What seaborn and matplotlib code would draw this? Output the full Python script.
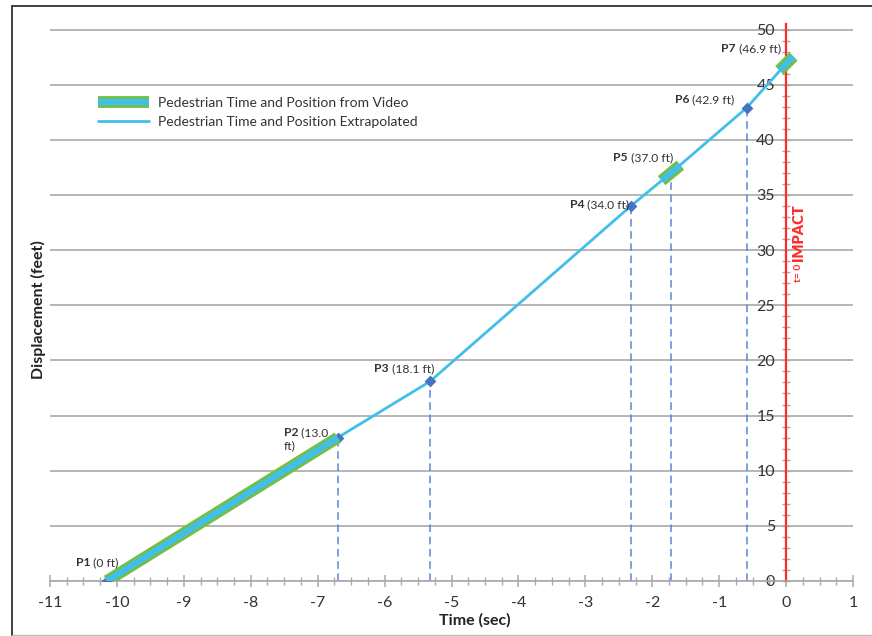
import matplotlib
matplotlib.use("Agg")
import matplotlib.pyplot as plt
import matplotlib.patheffects as pe
from matplotlib.lines import Line2D
from matplotlib.ticker import MultipleLocator
import pandas as pd
import seaborn as sns

# Pedestrian positions (time before impact, displacement)
point_names = ["P1", "P2", "P3", "P4", "P5", "P6", "P7"]
point_times = [-10.15, -6.70, -5.32, -2.32, -1.72, -0.59, 0.0]
point_disp = [0.0, 13.0, 18.1, 34.0, 37.0, 42.9, 46.9]
point_notes = ["(0 ft)", "(13.0\nft)", "(18.1 ft)", "(34.0 ft)",
               "(37.0 ft)", "(42.9 ft)", "(46.9 ft)"]
diamond_names = ["P1", "P2", "P3", "P4", "P6"]
dropline_names = ["P2", "P3", "P4", "P5", "P6"]

# Stretches where the position comes directly from the video
video_seg_times = [[-10.15, -6.70], [-1.86, -1.58], [-0.10, 0.11]]
video_seg_disp = [[0.0, 13.0], [36.3, 37.7], [46.3, 47.55]]

legend_labels = ["Pedestrian Time and Position from Video",
                 "Pedestrian Time and Position Extrapolated"]
x_label = "Time (sec)"
y_label = "Displacement (feet)"
impact_small = "t= 0"
impact_big = "IMPACT"

# label offsets (pixels) from each point to the start of its label
label_offsets = [(-31, 18), (-54, 5), (-56, 13), (-61, 1), (-58, 15), (-72, 8), (-65, 15)]

CYAN = "#41BFE8"
GREEN = "#74BE43"
DIAMOND = "#4673C2"
DROP = "#5A88D6"
RED = "#FF2B2B"
GRID = "#A9A9A9"
TEXT = "#333333"

sns.set_theme(style="white")
plt.rcParams["font.family"] = ["Lato", "DejaVu Sans"]
plt.rcParams["axes.unicode_minus"] = False

df = pd.DataFrame({"name": point_names, "time": point_times, "disp": point_disp})

fig = plt.figure(figsize=(8.72, 6.36), dpi=100)
ax = fig.add_axes([50 / 872, 55 / 636, 803 / 872, 557 / 636])

ax.set_xlim(-11, 1)
ax.set_ylim(0, 50.5)

# horizontal grid
ax.yaxis.set_major_locator(MultipleLocator(5))
ax.yaxis.set_minor_locator(MultipleLocator(1))
ax.xaxis.set_major_locator(MultipleLocator(1))
ax.xaxis.set_minor_locator(MultipleLocator(0.25))
ax.grid(axis="y", which="major", color=GRID, lw=1.2, zorder=0)
ax.grid(axis="x", visible=False)
ax.set_axisbelow(True)

# drop lines to the time axis
drop = df[df["name"].isin(dropline_names)]
ax.vlines(drop["time"], 0, drop["disp"], colors=DROP, linestyles=(0, (5, 3)), lw=1.1, zorder=2)

# extrapolated path
sns.lineplot(data=df, x="time", y="disp", sort=False, color=CYAN, lw=2.0, ax=ax, zorder=3)

# marker diamonds
dia = df[df["name"].isin(diamond_names)]
sns.scatterplot(data=dia, x="time", y="disp", marker="D", s=36, color=DIAMOND,
                edgecolor=DIAMOND, linewidth=0, ax=ax, zorder=4)

# video segments: green outline with cyan core
video_fx = [pe.Stroke(linewidth=8.5, foreground=GREEN), pe.Normal()]
for ts, ds in zip(video_seg_times, video_seg_disp):
    sns.lineplot(x=ts, y=ds, sort=False, color=CYAN, lw=4.6, ax=ax,
                 path_effects=video_fx, solid_capstyle="butt", zorder=5)

# point labels: bold name followed by the displacement
for t, d, name, note, (dx, dy) in zip(point_times, point_disp, point_names,
                                      point_notes, label_offsets):
    first, *rest = note.split("\n")
    head = ax.annotate(name, xy=(t, d), xytext=(dx, dy), textcoords="offset pixels",
                       fontsize=8.7, fontweight="bold", color=TEXT, ha="left",
                       va="center", zorder=6)
    ax.annotate(" " + first, xy=(1, 0), xycoords=head, ha="left", va="bottom",
                fontsize=8.7, color=TEXT, zorder=6)
    for i, line in enumerate(rest):
        ax.annotate(line, xy=(t, d), xytext=(dx, dy - 13 * (i + 1)),
                    textcoords="offset pixels", fontsize=8.7, color=TEXT,
                    ha="left", va="center", zorder=6)

# impact marker
ax.text(0.19, 27.1, impact_small, rotation=90, color=RED, fontsize=7.5,
        fontweight="bold", ha="center", va="bottom")
ax.text(0.19, 29.0, impact_big, rotation=90, color=RED, fontsize=10.5,
        fontweight="heavy", ha="center", va="bottom")

# spines: time axis along 0, displacement axis in red at t = 0
for s in ("top", "right"):
    ax.spines[s].set_visible(False)
ax.spines["left"].set_position(("data", 0))
ax.spines["left"].set_color(RED)
ax.spines["left"].set_linewidth(1.6)
ax.spines["left"].set_zorder(1)
ax.spines["bottom"].set_color(GRID)
ax.spines["bottom"].set_linewidth(1.2)

ax.tick_params(axis="x", which="major", direction="inout", length=8, width=1.1,
               color=GRID, labelsize=11.5, labelcolor=TEXT, pad=7, bottom=True)
ax.tick_params(axis="x", which="minor", direction="inout", length=6, width=1.0,
               color=GRID, bottom=True)
ax.tick_params(axis="y", which="major", direction="inout", length=6, width=1.0,
               color=GRID, labelsize=11.5, labelcolor=TEXT, pad=5, left=True)
ax.tick_params(axis="y", which="minor", direction="inout", length=6, width=1.0,
               color=GRID, left=True)
ax.set_xlabel("")
ax.set_ylabel("")

# legend
handles = [
    Line2D([], [], color=CYAN, lw=4.6, path_effects=video_fx, solid_capstyle="butt"),
    Line2D([], [], color=CYAN, lw=2.0),
]
ax.legend(handles, legend_labels, loc="upper left", bbox_to_anchor=(0.051, 0.882),
          frameon=False, fontsize=10, handlelength=3.7, handletextpad=0.6,
          labelspacing=0.55, borderpad=0, labelcolor=TEXT)

# axis titles
fig.text(475 / 872, 1 - 620 / 636, x_label, ha="center", va="center",
         fontsize=11.5, fontweight="bold", color="#222222")
fig.text(38 / 872, 1 - 310 / 636, y_label, ha="center", va="center", rotation=90,
         fontsize=11.5, fontweight="bold", color="#222222")

# outer frame
fig.add_artist(Line2D([12 / 872, 12 / 872], [0, 1 - 6 / 636], color="#333333",
                      lw=1.3, transform=fig.transFigure))
fig.add_artist(Line2D([12 / 872, 1], [1 - 6 / 636, 1 - 6 / 636], color="#333333",
                      lw=1.3, transform=fig.transFigure))
fig.add_artist(Line2D([12 / 872, 1], [1.5 / 636, 1.5 / 636], color="#BBBBBB",
                      lw=1.0, transform=fig.transFigure))

fig.savefig("out.png", dpi=100, facecolor="white")
